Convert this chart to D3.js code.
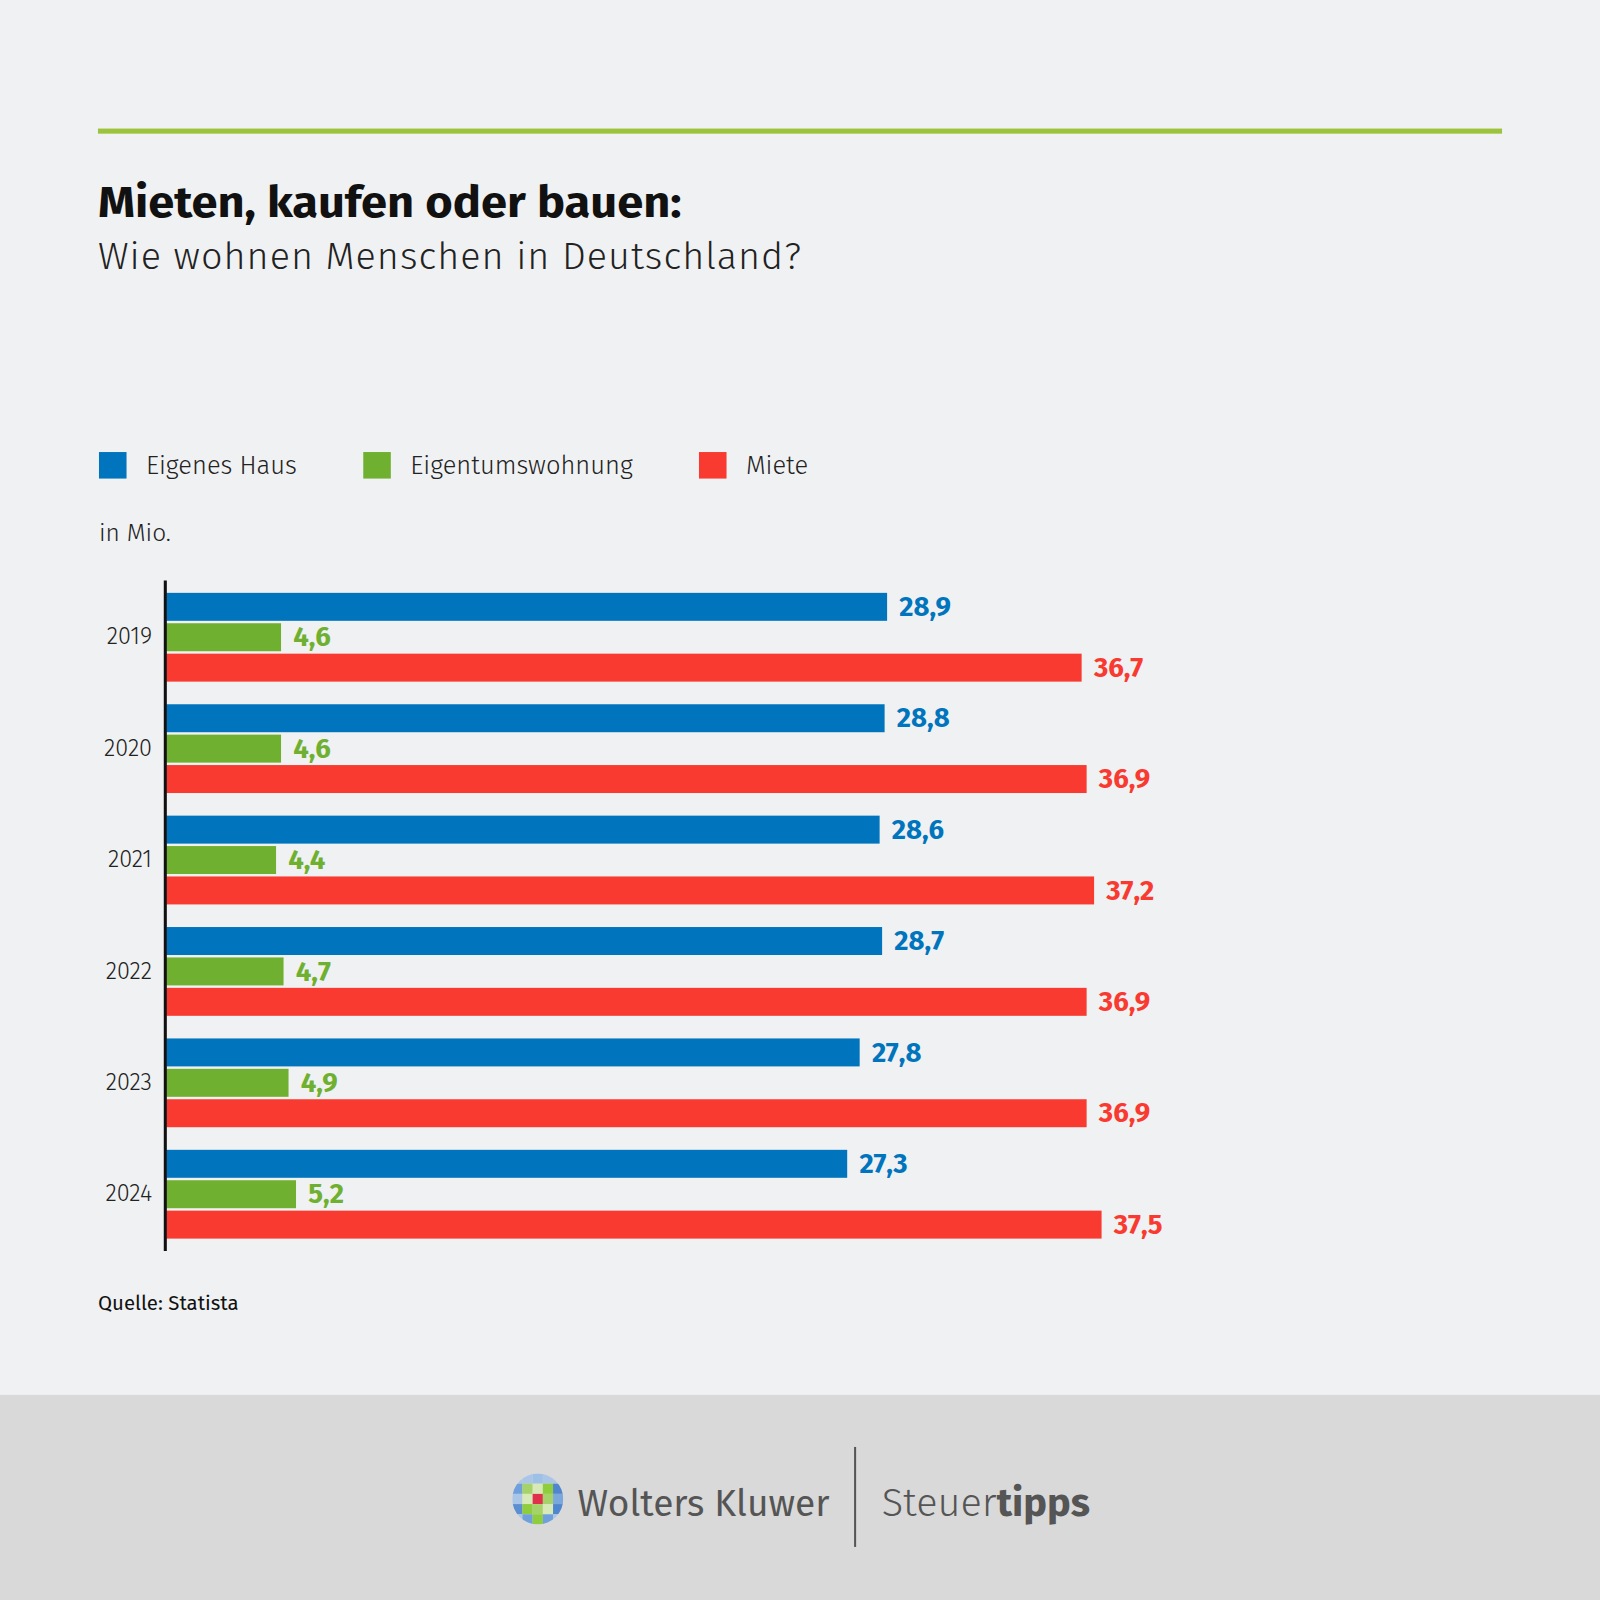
<!DOCTYPE html>
<html><head><meta charset="utf-8">
<script src="https://cdn.jsdelivr.net/npm/d3@7"></script>
<style>body{margin:0;background:#f0f1f2}svg{display:block}</style></head>
<body><svg id="c" width="1600" height="1600"></svg>
<script>
const years = ["2019","2020","2021","2022","2023","2024"];
const seriesNames = ["Eigenes Haus","Eigentumswohnung","Miete"];
const haus = [28.9,28.8,28.6,28.7,27.8,27.3];
const wohnung = [4.6,4.6,4.4,4.7,4.9,5.2];
const miete = [36.7,36.9,37.2,36.9,36.9,37.5];
const colors = ["#0075bd","#6fb030","#f93a30"];
const series = [haus,wohnung,miete];

const svg = d3.select("#c");
const s = 1600/1568;
const g = svg.append("g").attr("transform",`scale(${s})`);
const F = "'Fira Sans','Open Sans','Noto Sans',sans-serif";
g.append("rect").attr("width",1568).attr("height",1568).attr("fill","#f0f1f2");
g.append("rect").attr("y",1367).attr("width",1568).attr("height",201).attr("fill","#d9d9d9");
g.append("rect").attr("x",96).attr("y",126).attr("width",1376).attr("height",5).attr("fill","#9dc33c");
g.append("text").attr("x",96).attr("y",213).attr("font-family",F).attr("font-weight",700).attr("font-size",43).attr("fill","#111").attr("textLength",572).attr("lengthAdjust","spacingAndGlyphs").text("Mieten, kaufen oder bauen:");
g.append("text").attr("x",96).attr("y",264).attr("font-family",F).attr("font-weight",300).attr("font-size",37).attr("fill","#222").attr("letter-spacing",1).text("Wie wohnen Menschen in Deutschland?");

const legX=[97,356,685];
seriesNames.forEach((n,i)=>{
  g.append("rect").attr("x",legX[i]).attr("y",443).attr("width",27).attr("height",26).attr("fill",colors[i]);
  g.append("text").attr("x",legX[i]+46).attr("y",465).attr("font-family",F).attr("font-weight",300).attr("font-size",25).attr("fill","#222").text(n);
});
g.append("text").attr("x",97).attr("y",530).attr("font-family",F).attr("font-weight",300).attr("font-size",24).attr("fill","#222").text("in Mio.");

const x = d3.scaleLinear().domain([0,36.7]).range([163,1060]);
const y = d3.scaleBand().domain(years).range([567,1222]);
const inner = d3.scaleBand().domain([0,1,2]).range([14,101]).paddingInner(0.08);
years.forEach((yr,j)=>{
  series.forEach((arr,i)=>{
    const top=y(yr)+inner(i);
    g.append("rect").attr("x",x(0)).attr("y",top).attr("width",x(arr[j])-x(0)).attr("height",inner.bandwidth()).attr("fill",colors[i]);
    g.append("text").attr("x",x(arr[j])+12).attr("y",top+inner.bandwidth()/2+9).attr("font-family",F).attr("font-weight",700).attr("font-size",27).attr("fill",colors[i]).text(arr[j].toFixed(1).replace(".",","));
  });
  g.append("text").attr("x",149).attr("y",y(yr)+y.bandwidth()/2+10).attr("text-anchor","end").attr("font-family",F).attr("font-weight",300).attr("font-size",23).attr("fill","#222").text(yr);
});
g.append("line").attr("x1",162).attr("x2",162).attr("y1",569).attr("y2",1226).attr("stroke","#111").attr("stroke-width",3);
g.append("text").attr("x",96).attr("y",1284).attr("font-family",F).attr("font-size",20).attr("fill","#111").text("Quelle: Statista");

// logo
const lg=g.append("g").attr("transform","translate(527,1469)");
lg.append("clipPath").attr("id","cc").append("circle").attr("r",25);
const cell=10, cols=[["#a9c6e8","#a9c6e8","#9cc0e6","#a9c6e8","#a9c6e8"],["#6fa0dc","#a5d36a","#d7e9b6","#8fcd3c","#4f86cf"],["#a9c6e8","#d7e9b6","#e0304a","#a5d36a","#7aa8dc"],["#5b8fd2","#8fcd3c","#a5d36a","#d7e9b6","#4f86cf"],["#a9c6e8","#6fa0dc","#8fcd3c","#6fa0dc","#a9c6e8"]];
const mg=lg.append("g").attr("clip-path","url(#cc)");
cols.forEach((r,ri)=>r.forEach((c,ci)=>mg.append("rect").attr("x",-25+ci*cell).attr("y",-25+ri*cell).attr("width",cell).attr("height",cell).attr("fill",c)));
g.append("text").attr("x",566).attr("y",1486).attr("font-family",F).attr("font-size",37).attr("fill","#555").attr("textLength",247).attr("lengthAdjust","spacingAndGlyphs").text("Wolters Kluwer");
g.append("line").attr("x1",838).attr("x2",838).attr("y1",1418).attr("y2",1516).attr("stroke","#555").attr("stroke-width",2);
const st=g.append("text").attr("x",864).attr("y",1486).attr("font-family",F).attr("font-size",39).attr("fill","#555");
st.append("tspan").attr("font-weight",300).text("Steuer");
st.append("tspan").attr("font-weight",700).text("tipps");
</script></body></html>
